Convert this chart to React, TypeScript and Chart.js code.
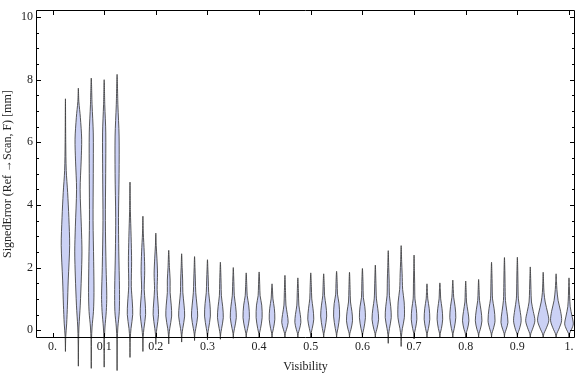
import { useEffect, useRef } from 'react';
import { Chart, registerables } from 'chart.js';

Chart.register(...registerables);

// Visibility bin centres
const violinX = [
  0.025, 0.05, 0.075, 0.1, 0.125, 0.15, 0.175, 0.2, 0.225, 0.25,
  0.275, 0.3, 0.325, 0.35, 0.375, 0.4, 0.425, 0.45, 0.475, 0.5,
  0.525, 0.55, 0.575, 0.6, 0.625, 0.65, 0.675, 0.7, 0.725, 0.75,
  0.775, 0.8, 0.825, 0.85, 0.875, 0.9, 0.925, 0.95, 0.975, 1.0,
];

// Upper end of each violin (SignedError, mm)
const violinTop = [
  7.39, 7.73, 8.05, 8.0, 8.17, 4.73, 3.64, 3.1, 2.55, 2.44,
  2.35, 2.25, 2.17, 2.0, 1.83, 1.86, 1.48, 1.75, 1.67, 1.83,
  1.8, 1.88, 1.85, 1.97, 2.08, 2.54, 2.7, 2.4, 1.48, 1.51,
  1.6, 1.57, 1.62, 2.17, 2.32, 2.33, 2.02, 1.85, 1.8, 1.67,
];

// Lower end of each violin (SignedError, mm)
const violinBottom = [
  -0.68, -1.15, -1.22, -1.18, -1.29, -0.87, -0.68, -0.45, -0.44, -0.38,
  -0.33, -0.31, -0.29, -0.26, -0.23, -0.23, -0.23, -0.23, -0.23, -0.23,
  -0.23, -0.23, -0.23, -0.23, -0.25, -0.42, -0.52, -0.28, -0.22, -0.22,
  -0.22, -0.22, -0.22, -0.22, -0.22, -0.22, -0.22, -0.22, -0.22, -0.22,
];

// Density profile of each violin: [SignedError, relative density]
const violinProfiles: [number, number][][] = [
  [[-0.2, 0.3], [0.2, 1.2], [0.8, 2.0], [1.6, 2.8], [2.7, 4.2], [3.6, 3.4], [4.4, 2.2], [5.1, 0.8], [6.0, 0.3]],
  [[-0.3, 0.25], [0.1, 0.6], [0.8, 1.9], [1.7, 3.0], [2.5, 3.6], [3.3, 3.0], [4.5, 1.8], [5.4, 2.8], [6.1, 3.3], [6.8, 2.0], [7.3, 0.5]],
  [[-0.3, 0.25], [0.1, 0.8], [0.6, 2.2], [1.2, 2.7], [2.2, 2.4], [3.5, 1.8], [5.0, 2.0], [6.3, 2.0], [7.2, 0.8]],
  [[-0.3, 0.25], [0.1, 0.8], [0.6, 2.1], [1.1, 2.6], [2.0, 1.9], [3.5, 1.2], [5.0, 1.5], [6.3, 1.6], [7.2, 0.6]],
  [[-0.3, 0.25], [0.1, 0.8], [0.6, 2.2], [1.3, 2.4], [2.5, 1.7], [3.6, 1.4], [5.0, 2.0], [6.2, 2.0], [7.2, 0.8]],
  [[-0.25, 0.3], [0.05, 1.0], [0.5, 2.7], [0.9, 2.3], [1.4, 1.3], [2.2, 1.6], [3.0, 1.1], [3.8, 0.4]],
  [[-0.2, 0.3], [0.05, 1.0], [0.5, 2.7], [0.9, 2.2], [1.3, 1.3], [1.9, 1.8], [2.5, 1.3], [3.1, 0.4]],
  [[-0.15, 0.3], [0.05, 1.0], [0.5, 2.7], [0.9, 2.1], [1.3, 1.3], [1.8, 1.7], [2.3, 1.1], [2.7, 0.4]],
  [[-0.15, 0.3], [0.05, 1.0], [0.45, 2.9], [0.8, 2.5], [1.2, 1.4], [1.6, 1.4], [2.0, 0.7]],
  [[-0.15, 0.3], [0.05, 1.1], [0.45, 3.0], [0.8, 2.4], [1.2, 1.2], [1.6, 1.0], [2.0, 0.5]],
  [[-0.12, 0.3], [0.05, 1.2], [0.45, 3.1], [0.8, 2.4], [1.2, 1.2], [1.6, 0.8], [2.0, 0.4]],
  [[-0.12, 0.3], [0.05, 1.1], [0.45, 2.9], [0.85, 2.4], [1.2, 1.2], [1.6, 0.8], [1.95, 0.4]],
  [[-0.12, 0.3], [0.05, 1.2], [0.4, 2.9], [0.75, 2.3], [1.1, 1.0], [1.5, 0.7], [1.85, 0.4]],
  [[-0.1, 0.3], [0.05, 1.2], [0.4, 3.0], [0.75, 2.4], [1.1, 1.0], [1.4, 0.7], [1.7, 0.4]],
  [[-0.1, 0.35], [0.05, 1.4], [0.4, 3.2], [0.8, 2.5], [1.1, 1.0], [1.4, 0.6]],
  [[-0.1, 0.35], [0.05, 1.4], [0.4, 3.0], [0.8, 2.6], [1.1, 1.0], [1.45, 0.6]],
  [[-0.1, 0.35], [0.05, 1.4], [0.35, 2.8], [0.7, 2.3], [1.0, 0.9], [1.25, 0.5]],
  [[-0.1, 0.4], [0.03, 1.6], [0.25, 3.2], [0.5, 2.4], [0.8, 1.0], [1.2, 0.6]],
  [[-0.1, 0.4], [0.03, 1.6], [0.25, 3.0], [0.5, 2.4], [0.8, 1.0], [1.2, 0.6]],
  [[-0.1, 0.35], [0.05, 1.4], [0.35, 3.0], [0.7, 2.2], [1.0, 1.0], [1.4, 0.6]],
  [[-0.1, 0.35], [0.05, 1.3], [0.45, 3.0], [0.8, 2.2], [1.1, 0.9], [1.4, 0.6]],
  [[-0.1, 0.35], [0.05, 1.3], [0.45, 3.0], [0.85, 2.4], [1.15, 0.9], [1.5, 0.6]],
  [[-0.1, 0.35], [0.03, 1.5], [0.3, 3.0], [0.6, 2.4], [0.9, 1.0], [1.3, 0.6]],
  [[-0.1, 0.35], [0.05, 1.4], [0.4, 3.0], [0.75, 2.4], [1.05, 0.9], [1.5, 0.6]],
  [[-0.1, 0.35], [0.03, 1.5], [0.35, 3.3], [0.7, 2.4], [1.0, 1.1], [1.5, 0.6]],
  [[-0.15, 0.3], [0.05, 1.2], [0.4, 3.0], [0.75, 2.5], [1.1, 1.2], [1.6, 0.9], [2.0, 0.5]],
  [[-0.2, 0.3], [0.05, 1.2], [0.4, 3.2], [0.9, 3.0], [1.3, 1.5], [1.8, 1.0], [2.2, 0.5]],
  [[-0.1, 0.35], [0.05, 1.4], [0.35, 2.8], [0.7, 2.2], [1.0, 0.9], [1.5, 0.6], [1.9, 0.35]],
  [[-0.1, 0.35], [0.05, 1.4], [0.35, 2.8], [0.7, 2.2], [1.0, 0.8], [1.2, 0.5]],
  [[-0.1, 0.35], [0.05, 1.5], [0.35, 2.8], [0.7, 2.1], [1.0, 0.8], [1.25, 0.5]],
  [[-0.1, 0.35], [0.05, 1.4], [0.4, 3.0], [0.75, 2.3], [1.05, 0.9], [1.3, 0.5]],
  [[-0.1, 0.4], [0.03, 1.7], [0.3, 3.2], [0.6, 2.2], [0.9, 0.8], [1.2, 0.5]],
  [[-0.1, 0.4], [0.03, 1.7], [0.3, 3.3], [0.65, 2.3], [0.95, 0.9], [1.25, 0.5]],
  [[-0.1, 0.4], [0.03, 1.7], [0.3, 3.5], [0.7, 2.5], [1.0, 1.0], [1.5, 0.6], [1.8, 0.4]],
  [[-0.1, 0.4], [0.03, 1.8], [0.25, 3.5], [0.6, 2.4], [0.95, 1.0], [1.5, 0.6], [1.9, 0.4]],
  [[-0.1, 0.5], [0.03, 2.0], [0.3, 3.8], [0.65, 2.6], [1.0, 1.0], [1.5, 0.6], [1.9, 0.4]],
  [[-0.1, 0.6], [0.03, 2.2], [0.3, 4.6], [0.6, 3.0], [0.9, 1.2], [1.3, 0.7], [1.65, 0.4]],
  [[-0.1, 0.8], [0.03, 2.7], [0.3, 5.6], [0.55, 4.5], [0.9, 2.0], [1.2, 0.8], [1.5, 0.4]],
  [[-0.1, 0.8], [0.03, 2.7], [0.3, 5.5], [0.6, 4.5], [0.95, 2.0], [1.3, 0.8], [1.55, 0.4]],
  [[-0.1, 0.6], [0.03, 2.6], [0.2, 4.3], [0.45, 3.0], [0.75, 1.2], [1.1, 0.6], [1.4, 0.35]],
];

const xTickValues = [0, 0.1, 0.2, 0.3, 0.4, 0.5, 0.6, 0.7, 0.8, 0.9, 1.0];
const xTickLabels = ['0.', '0.1', '0.2', '0.3', '0.4', '0.5', '0.6', '0.7', '0.8', '0.9', '1.'];
const yTickValues = [0, 2, 4, 6, 8, 10];
const yTickLabels = ['0', '2', '4', '6', '8', '10'];
const yMinorTickValues = [0.5, 1, 1.5, 2.5, 3, 3.5, 4.5, 5, 5.5, 6.5, 7, 7.5, 8.5, 9, 9.5];

const DENSITY_TO_X = 0.00194; // x-units per density unit
const FONT = "'Liberation Serif', 'Times New Roman', serif";

const framePlugin = {
  id: 'mmaFrame',
  afterDatasetsDraw(chart: any) {
    const { ctx, chartArea: a, scales } = chart;
    const xs = scales.x;
    const ys = scales.y;
    const L = Math.round(a.left) + 0.5;
    const R = Math.round(a.right) - 0.5;
    const T = Math.round(a.top) + 0.5;
    const B = Math.round(a.bottom) - 0.5;
    ctx.save();
    ctx.strokeStyle = '#000';
    ctx.lineWidth = 1;
    ctx.beginPath();
    ctx.rect(L, T, R - L, B - T);
    ctx.stroke();
    ctx.beginPath();
    const major = 4.5;
    const minor = 2.5;
    for (const v of yTickValues) {
      const p = Math.round(ys.getPixelForValue(v)) + 0.5;
      ctx.moveTo(L, p); ctx.lineTo(L + major, p);
      ctx.moveTo(R, p); ctx.lineTo(R - major, p);
    }
    for (const v of yMinorTickValues) {
      const p = Math.round(ys.getPixelForValue(v)) + 0.5;
      ctx.moveTo(L, p); ctx.lineTo(L + minor, p);
      ctx.moveTo(R, p); ctx.lineTo(R - minor, p);
    }
    for (const v of xTickValues) {
      const p = Math.round(xs.getPixelForValue(v)) + 0.5;
      ctx.moveTo(p, B); ctx.lineTo(p, B - major);
      ctx.moveTo(p, T); ctx.lineTo(p, T + major);
    }
    ctx.stroke();
    ctx.restore();
  },
};

export default function App() {
  const ref = useRef<HTMLCanvasElement | null>(null);

  useEffect(() => {
    if (!ref.current) return;
    const datasets = violinX.map((x, i) => {
      const prof: [number, number][] = [
        [violinBottom[i], 0],
        ...violinProfiles[i],
        [violinTop[i], 0],
      ];
      const right = prof.map(([y, d]) => ({ x: x + d * DENSITY_TO_X, y }));
      const left = prof
        .slice(0, -1)
        .reverse()
        .map(([y, d]) => ({ x: x - d * DENSITY_TO_X, y }));
      return {
        data: [...right, ...left],
        showLine: true,
        fill: 'shape',
        backgroundColor: 'rgb(203, 209, 245)',
        borderColor: 'rgba(60, 60, 60, 0.85)',
        borderWidth: 1,
        pointRadius: 0,
        pointHoverRadius: 0,
        tension: 0.3,
        clip: false,
      };
    });

    const chart = new Chart(ref.current, {
      type: 'scatter',
      data: { datasets: datasets as any },
      plugins: [framePlugin],
      options: {
        animation: false,
        responsive: false,
        events: [],
        layout: { padding: { top: 4, right: 1, left: 0, bottom: 0 } },
        elements: { line: { capBezierPoints: false } },
        plugins: { legend: { display: false }, tooltip: { enabled: false } },
        scales: {
          x: {
            type: 'linear',
            min: -0.032,
            max: 1.0116,
            grid: { display: false, drawTicks: false },
            border: { display: false },
            afterFit: (s: any) => { s.height = 39; },
            afterBuildTicks: (s: any) => { s.ticks = xTickValues.map((v) => ({ value: v })); },
            ticks: {
              autoSkip: false,
              maxRotation: 0,
              padding: 2,
              color: '#222',
              font: { family: FONT, size: 12 },
              callback: (_v: any, idx: number) => xTickLabels[idx],
            },
            title: {
              display: true,
              text: 'Visibility',
              color: '#222',
              font: { family: FONT, size: 12 },
              padding: { top: 0, bottom: 3 },
            },
          },
          y: {
            type: 'linear',
            min: -0.25,
            max: 10.22,
            grid: { display: false, drawTicks: false },
            border: { display: false },
            afterFit: (s: any) => { s.width = 36; },
            afterBuildTicks: (s: any) => { s.ticks = yTickValues.map((v) => ({ value: v })); },
            ticks: {
              autoSkip: false,
              padding: 3,
              color: '#222',
              font: { family: FONT, size: 12 },
              callback: (_v: any, idx: number) => yTickLabels[idx],
            },
            title: {
              display: true,
              text: 'SignedError (Ref \u2192Scan, F) [mm]',
              color: '#222',
              font: { family: FONT, size: 12 },
              padding: { top: 1, bottom: 0 },
            },
          },
        },
      },
    });
    return () => chart.destroy();
  }, []);

  return (
    <div style={{ position: 'absolute', left: 0, top: 0, width: 576, height: 377, background: '#fff' }}>
      <canvas ref={ref} width={576} height={377} style={{ width: 576, height: 377, display: 'block' }} />
    </div>
  );
}
